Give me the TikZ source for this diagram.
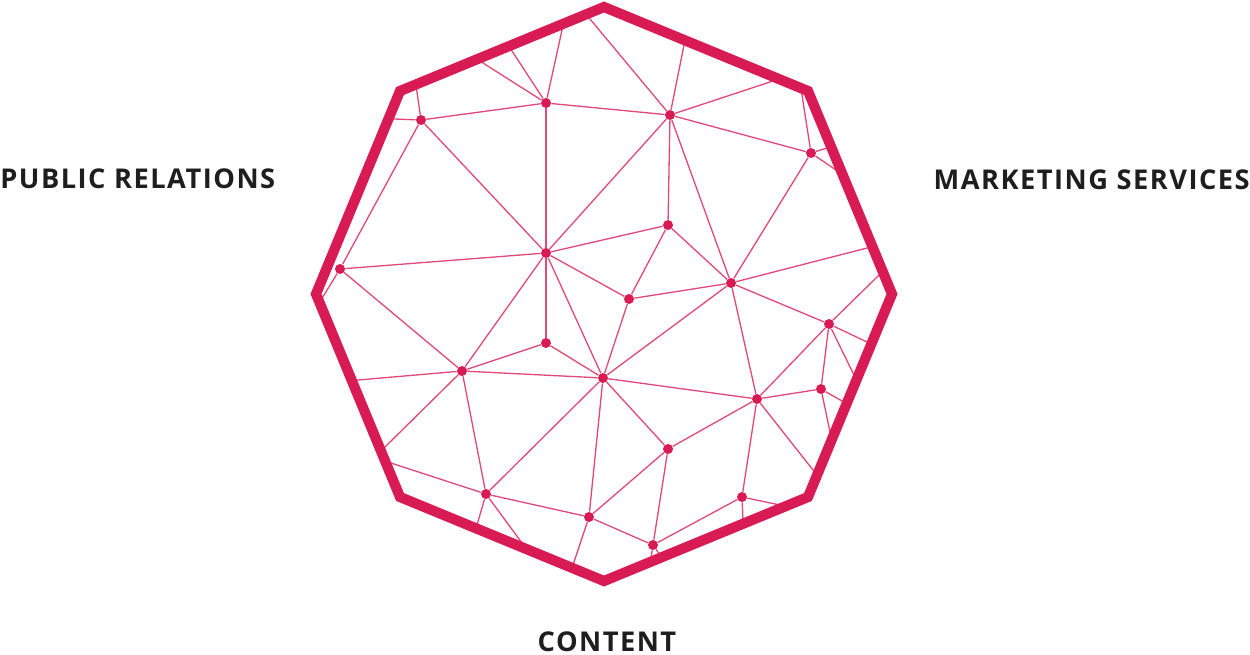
\documentclass[tikz,border=0pt]{standalone}
\usepackage{fontspec}
\setmainfont{Open Sans}[LetterSpace=5.5]
\definecolor{crim}{HTML}{D81B55}
\definecolor{thin}{HTML}{E04A78}
\definecolor{txt}{HTML}{1E1E1E}
\tikzset{
  dot/.style={circle, fill=crim, inner sep=0pt, minimum size=5.7pt},
  edge/.style={draw=thin, line width=0.75pt},
  bedge/.style={draw=thin, line width=0.75pt, shorten >=-2.2pt},
  frame/.style={draw=crim, line width=5.8pt, line join=miter},
  lbl/.style={inner sep=0pt, text=txt, font=\fontsize{15.5pt}{18pt}\selectfont\bfseries}
}
\begin{document}
\begin{tikzpicture}[x=0.02cm, y=-0.02cm]
\useasboundingbox (0,0) rectangle (1250,654);
% nodes
\node[dot] (n1) at (421,120) {};
\node[dot] (n2) at (546,103) {};
\node[dot] (n3) at (670,115) {};
\node[dot] (n4) at (811,153) {};
\node[dot] (n5) at (340,269) {};
\node[dot] (n6) at (546,253) {};
\node[dot] (n7) at (668,225) {};
\node[dot] (n8) at (731,283) {};
\node[dot] (n9) at (629,299) {};
\node[dot] (n10) at (829,324) {};
\node[dot] (n11) at (546,343) {};
\node[dot] (n12) at (462,371) {};
\node[dot] (n13) at (603,378) {};
\node[dot] (n14) at (821,389) {};
\node[dot] (n15) at (757,399) {};
\node[dot] (n16) at (668,449) {};
\node[dot] (n17) at (486,494) {};
\node[dot] (n18) at (589,517) {};
\node[dot] (n19) at (742,497) {};
\node[dot] (n20) at (653,545) {};
% boundary points
\coordinate (b1) at (417,92);
\coordinate (b2) at (395,119);
\coordinate (b3) at (483,63);
\coordinate (b4) at (512,51);
\coordinate (b5) at (562,30);
\coordinate (b6) at (590,19);
\coordinate (b7) at (684,45);
\coordinate (b8) at (773,81);
\coordinate (b9) at (802,95);
\coordinate (b10) at (827,148);
\coordinate (b11) at (836,170);
\coordinate (b12) at (867,248);
\coordinate (b13) at (876,278);
\coordinate (b14) at (867,342);
\coordinate (b15) at (853,373);
\coordinate (b16) at (842,401);
\coordinate (b17) at (830,432);
\coordinate (b18) at (813,470);
\coordinate (b19) at (780,505);
\coordinate (b20) at (743,521);
\coordinate (b21) at (651,558);
\coordinate (b22) at (660,555);
\coordinate (b23) at (574,562);
\coordinate (b24) at (522,543);
\coordinate (b25) at (477,525);
\coordinate (b26) at (394,464);
\coordinate (b27) at (387,445);
\coordinate (b28) at (358,380);
\coordinate (b29) at (324,295);
% internal edges
\foreach \a/\b in {n1/n2,n1/n6,n1/n5,n2/n6,n2/n3,n3/n6,n3/n4,n3/n7,n3/n8,n4/n8,
  n5/n6,n5/n12,n6/n7,n6/n9,n6/n11,n6/n13,n6/n12,n7/n9,n7/n8,n8/n9,n8/n10,n8/n15,
  n8/n13,n9/n13,n10/n14,n10/n15,n11/n12,n11/n13,n12/n13,n12/n17,n13/n15,n13/n16,
  n13/n17,n13/n18,n14/n15,n15/n16,n15/n19,n16/n20,n16/n18,n17/n18,n18/n20,n19/n20}
  \draw[edge] (\a) -- (\b);
% edges to frame
\foreach \a/\b in {n1/b1,n1/b2,n2/b3,n2/b4,n2/b5,n3/b6,n3/b7,n3/b8,n4/b9,n4/b10,
  n4/b11,n8/b12,n10/b13,n10/b14,n10/b15,n14/b16,n14/b17,n15/b18,n19/b19,n19/b20,
  n20/b21,n20/b22,n18/b23,n17/b24,n17/b25,n17/b26,n12/b27,n12/b28,n5/b29}
  \draw[bedge] (\a) -- (\b);
% frame
\draw[frame] (604,7) -- (808,91) -- (892,294) -- (808,497) -- (604,581) -- (400,497) -- (316,294) -- (400,91) -- cycle;
% labels
\node[lbl, anchor=base west] (pr) at (0,188) {PUBLIC RELATIONS};
\node[lbl, anchor=base east] (ms) at (1250,189) {MARKETING SERVICES};
\node[lbl, anchor=base] (ct) at (607,651) {CONTENT};
\end{tikzpicture}
\end{document}
